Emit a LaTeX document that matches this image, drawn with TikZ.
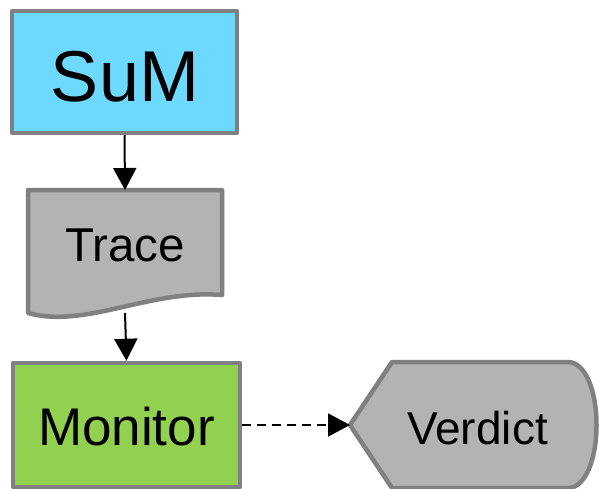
\documentclass[tikz,border=0pt]{standalone}
\usepackage{fontspec}
\setmainfont{Liberation Sans}
\usetikzlibrary{arrows.meta}
\definecolor{edgegray}{HTML}{808080}
\definecolor{sumblue}{HTML}{6DD9FF}
\definecolor{mongreen}{HTML}{92D050}
\definecolor{shapegray}{HTML}{B3B3B3}
\begin{document}
\begin{tikzpicture}[x=1pt,y=-1pt,
  outline/.style={draw=edgegray, line width=4.5pt, line join=round},
  box/.style={outline, inner sep=0pt},
  anchorbox/.style={inner sep=0pt, outer sep=0pt},
  label/.style={anchor=base, inner sep=0pt},
  link/.style={line width=2pt, -{Triangle[length=22pt,width=23pt]}}]
\useasboundingbox (0,0) rectangle (599,489);

% System under monitoring
\node[box, fill=sumblue, minimum width=225pt, minimum height=122pt] (sum) at (124.5,72) {};
\node[label, font=\fontsize{72}{72}\selectfont] (sumtext) at (125,102) {SuM};

% Trace: document shape with a wavy bottom edge
\draw[outline, fill=shapegray] (28,190) -- (222,190) -- (222,295)
  .. controls (150,289) and (85,329) .. (28,313) -- cycle;
\node[anchorbox, minimum width=194pt, minimum height=123pt] (trace) at (125,251.5) {};
\node[label, font=\fontsize{47.5}{47.5}\selectfont] (tracetext) at (125,261) {Trace};

% Monitor
\node[box, fill=mongreen, minimum width=227pt, minimum height=124pt] (monitor) at (126.5,425) {};
\node[label, font=\fontsize{53}{53}\selectfont] (montext) at (126.5,445) {Monitor};

% Verdict: display shape
\draw[outline, fill=shapegray] (350,425) -- (392,362) -- (568,362)
  .. controls (585,362) and (596.5,390) .. (596.5,425)
  .. controls (596.5,460) and (585,488) .. (568,488) -- (392,488) -- cycle;
\node[anchorbox, minimum width=247pt, minimum height=126pt] (verdict) at (473.5,425) {};
\node[label, font=\fontsize{46}{46}\selectfont] (verdicttext) at (477.5,444) {Verdict};

% Connectors
\draw[link] (sum.south) -- (trace.north);
\draw[link] (trace.south) -- (monitor.north);
\draw[link, dash pattern=on 9pt off 6pt] (monitor.east) -- (verdict.west);
\end{tikzpicture}
\end{document}
